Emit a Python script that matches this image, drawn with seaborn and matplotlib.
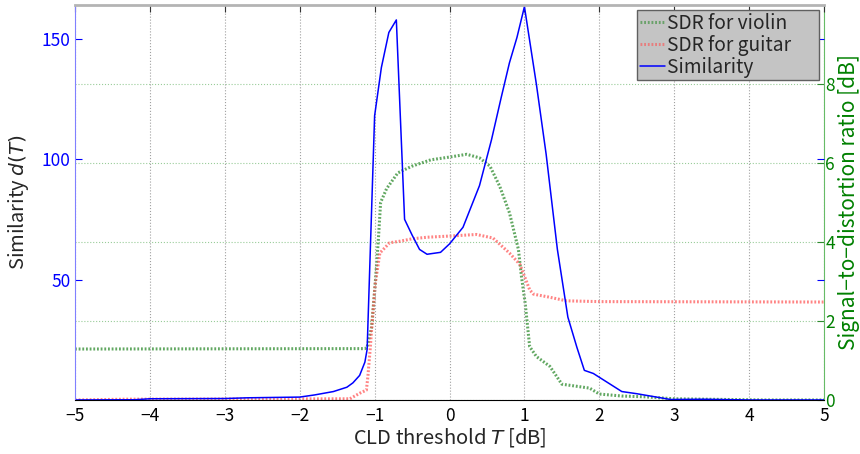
import numpy as np
import pandas as pd
import seaborn as sns
import matplotlib.pyplot as plt
from matplotlib.lines import Line2D

# Similarity d(T) (left axis)
t_sim = [-5.0, -4.2, -4.0, -3.0, -2.7, -2.0, -1.8, -1.55, -1.37, -1.29, -1.2, -1.13, -1.1,
         -1.0, -0.91, -0.81, -0.71, -0.6, -0.5, -0.4, -0.3, -0.12, 0.0, 0.18, 0.4, 0.56,
         0.69, 0.8, 0.9, 1.0, 1.16, 1.29, 1.44, 1.58, 1.7, 1.8, 1.92, 2.3, 2.5, 2.95, 3.4,
         4.0, 5.0]
similarity = [0.0, 0.1, 0.5, 0.6, 0.9, 1.2, 2.1, 3.5, 5.3, 7.1, 10.2, 15.7, 21.0,
              118.0, 138.0, 152.6, 157.8, 75.0, 68.5, 62.5, 60.5, 61.3, 64.8, 71.7, 89.0, 108.0,
              125.6, 140.0, 150.5, 163.3, 131.0, 102.0, 62.5, 34.4, 21.9, 12.3, 11.0, 3.5, 2.6,
              0.2, 0.3, 0.0, 0.0]

# SDR for violin (right axis)
t_violin = [-5.0, -1.13, -1.1, -1.04, -0.99, -0.95, -0.92, -0.84, -0.69, -0.5, -0.25, 0.0,
            0.23, 0.4, 0.54, 0.67, 0.8, 0.92, 0.96, 1.01, 1.07, 1.16, 1.34, 1.5, 1.87, 2.0,
            2.3, 2.6, 3.0, 4.2, 5.0]
sdr_violin = [1.29, 1.30, 1.34, 1.85, 3.0, 4.06, 5.0, 5.35, 5.75, 5.92, 6.08, 6.15,
              6.22, 6.13, 5.92, 5.41, 4.74, 3.81, 3.13, 2.45, 1.35, 1.10, 0.85, 0.40, 0.30, 0.15,
              0.10, 0.08, 0.03, 0.0, 0.0]

# SDR for guitar (right axis)
t_guitar = [-5.0, -4.3, -1.33, -1.2, -1.11, -1.09, -1.06, -1.04, -0.99, -0.93, -0.8, -0.66,
            -0.5, -0.3, 0.0, 0.36, 0.58, 0.8, 0.94, 1.07, 1.12, 1.34, 1.56, 2.0, 5.0]
sdr_guitar = [0.0, 0.02, 0.03, 0.17, 0.25, 0.59, 1.27, 1.78, 2.96, 3.72, 3.98, 4.02,
              4.08, 4.12, 4.15, 4.19, 4.10, 3.72, 3.43, 2.79, 2.68, 2.60, 2.51, 2.49, 2.48]

legend_labels = ['SDR for violin', 'SDR for guitar', 'Similarity']

sns.set_style('white')
plt.rcParams['font.family'] = ['Noto Sans CJK JP', 'DejaVu Sans']
plt.rcParams['mathtext.fontset'] = 'dejavusans'

blue = '#0000ff'
green = '#2e8b2e'
red = '#ff5050'

fig = plt.figure(figsize=(8.6, 4.54), dpi=100)
ax = fig.add_axes([0.0872, 0.119, 0.871, 0.870])
ax2 = ax.twinx()

sns.lineplot(x=t_violin, y=sdr_violin, ax=ax2, color=green, linewidth=2.2,
             linestyle=(0, (0.6, 0.6)), alpha=0.75, legend=False)
sns.lineplot(x=t_guitar, y=sdr_guitar, ax=ax2, color=red, linewidth=2.2,
             linestyle=(0, (0.6, 0.6)), alpha=0.7, legend=False)
sns.lineplot(x=t_sim, y=similarity, ax=ax, color=blue, linewidth=1.1, legend=False)

ax.set_zorder(ax2.get_zorder() + 1)
ax.patch.set_visible(False)

ax.set_xlim(-5, 5)
ax.set_ylim(0, 164)
ax2.set_ylim(0, 10)
ax.set_xticks(range(-5, 6))
ax.set_yticks([50, 100, 150])
ax2.set_yticks([0, 2, 4, 6, 8])

ax.grid(axis='x', linestyle=':', color='#a0a0a0', linewidth=0.8)
ax.grid(axis='y', visible=False)
ax2.grid(axis='y', linestyle=':', color='#99cc99', linewidth=0.8)
ax2.grid(axis='x', visible=False)

ax.tick_params(axis='x', direction='in', top=True, length=5, labelsize=12.5, colors='#333333',
               labelcolor='black', pad=5)
ax.tick_params(axis='y', direction='in', right=True, length=5, labelsize=12.5, colors=blue,
               labelcolor=blue, pad=3)
ax2.tick_params(axis='y', direction='in', length=5, labelsize=12.5, colors=green,
                labelcolor='#008000', pad=1)

for s in ax.spines.values():
    s.set_visible(True)
ax.spines['left'].set_color('#8080ff')
ax.spines['bottom'].set_color('black')
ax.spines['top'].set_color('#b4b4b4')
ax.spines['top'].set_linewidth(2)
ax.spines['right'].set_visible(False)
ax2.spines['right'].set_color('#66bb66')
for k in ['left', 'top', 'bottom']:
    ax2.spines[k].set_visible(False)

ax.set_xlabel('CLD threshold $T$ [dB]', fontsize=14.5, labelpad=1)
ax.set_ylabel('Similarity $d(T)$', fontsize=14.5, labelpad=8)
ax2.set_ylabel('Signal\u2212to\u2212distortion ratio [dB]', fontsize=15, color='#008000', labelpad=2)

handles = [
    Line2D([], [], color=green, linewidth=2.2, linestyle=(0, (0.6, 0.6)), alpha=0.6),
    Line2D([], [], color=red, linewidth=2.2, linestyle=(0, (0.6, 0.6)), alpha=0.6),
    Line2D([], [], color=blue, linewidth=1.1),
]
leg = ax.legend(handles, legend_labels,
                loc='upper right', fontsize=13.8, fancybox=False, framealpha=1,
                facecolor='#c4c4c4', edgecolor='#606060', handlelength=1.3,
                handletextpad=0.1, borderpad=0.15, labelspacing=0.05,
                borderaxespad=0.25)
# MATLAB-style legend leaves extra room on the right side of the box
leg._legend_box.sep = 4
leg.get_frame().set_linewidth(1.0)
for txt in leg.get_texts():
    txt.set_text(txt.get_text() + '      ')

fig.savefig('out.png', dpi=100)
